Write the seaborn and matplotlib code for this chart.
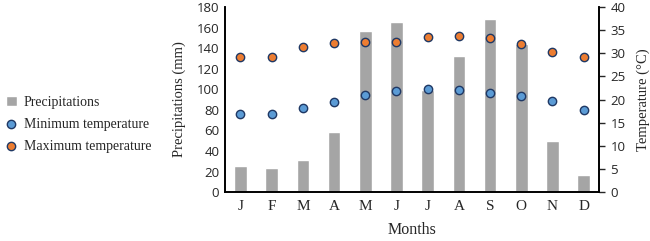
import pandas as pd
import matplotlib.pyplot as plt
import seaborn as sns

# Dados climáticos mensais
meses = ['J', 'F', 'M', 'A', 'M', 'J', 'J', 'A', 'S', 'O', 'N', 'D']
precipitacao = [25, 23, 31, 58, 157, 165, 99, 132, 168, 144, 50, 17]
temp_min = [16.9, 16.8, 18.1, 19.5, 21.0, 21.9, 22.2, 22.0, 21.5, 20.8, 19.6, 17.7]
temp_max = [29.3, 29.3, 31.3, 32.3, 32.4, 32.4, 33.6, 33.7, 33.2, 31.9, 30.3, 29.3]

df = pd.DataFrame({
    'idx': range(len(meses)),
    'Precipitations': precipitacao,
    'Tmin': temp_min,
    'Tmax': temp_max,
})

sns.set_style('white')
serif = 'Liberation Serif'
sans = 'Open Sans'

fig = plt.figure(figsize=(6.5, 2.41), dpi=100)
ax = fig.add_axes([0.346, 0.203, 0.576, 0.768])

sns.barplot(data=df, x='idx', y='Precipitations', color='#a5a5a5', saturation=1,
            width=0.4, ax=ax, label='Precipitations')
ax.set_ylim(0, 180)
ax.set_yticks(range(0, 181, 20))
ax.set_xlim(-0.5, 11.5)

ax2 = ax.twinx()
sns.scatterplot(data=df, x='idx', y='Tmin', color='#5b9bd5', edgecolor='#1f3864',
                linewidth=1, s=36, ax=ax2, label='Minimum temperature', zorder=3)
sns.scatterplot(data=df, x='idx', y='Tmax', color='#ed7d31', edgecolor='#1f3864',
                linewidth=1, s=36, ax=ax2, label='Maximum temperature', zorder=3)
ax2.set_ylim(0, 40)
ax2.set_yticks(range(0, 41, 5))

ax.set_xticks(range(len(meses)))
ax.set_xticklabels(meses, fontfamily=serif, fontsize=11)
for lbl in ax.get_yticklabels() + ax2.get_yticklabels():
    lbl.set_fontfamily(sans)
    lbl.set_fontsize(9.5)

ax.set_xlabel('Months', fontfamily=serif, fontsize=11.5, labelpad=6)
ax.set_ylabel('Precipitations (mm)', fontfamily=serif, fontsize=10.5, labelpad=8)
ax2.set_ylabel('Temperature (°C)', fontfamily=serif, fontsize=10.5, labelpad=8)

for a in (ax, ax2):
    a.spines['top'].set_visible(False)
    for s in ('left', 'bottom', 'right'):
        a.spines[s].set_color('black')
        a.spines[s].set_linewidth(1.2)
ax.tick_params(axis='x', length=0, pad=6)
ax.tick_params(axis='y', length=0, pad=4)
ax2.tick_params(axis='y', length=4, width=1, direction='out', pad=4)

# Legenda à esquerda, fora dos eixos
h1, l1 = ax.get_legend_handles_labels()
h2, l2 = ax2.get_legend_handles_labels()
if ax.get_legend():
    ax.get_legend().remove()
if ax2.get_legend():
    ax2.get_legend().remove()
fig.legend(h1 + h2, l1 + l2, loc='center left', bbox_to_anchor=(0.0, 0.485),
           frameon=False, prop={'family': serif, 'size': 10},
           handlelength=0.8, handletextpad=0.5, labelspacing=0.65, borderaxespad=0)

fig.savefig('out.png', dpi=100)
